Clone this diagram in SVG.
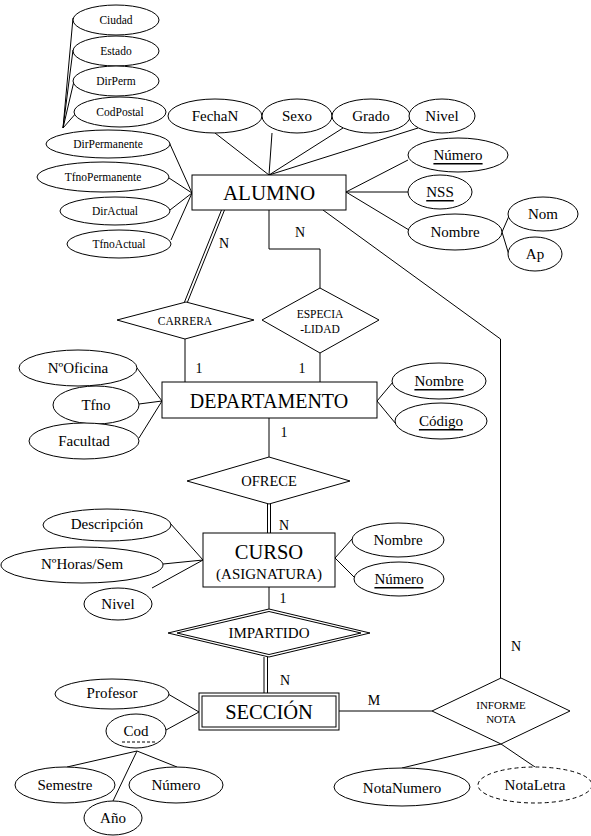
<svg xmlns="http://www.w3.org/2000/svg" width="591" height="836" viewBox="0 0 591 836" font-family="'Liberation Serif', 'Times New Roman', Times, serif">
<style>
text{fill:#000;text-anchor:middle;dominant-baseline:central}
.s{fill:#fff;stroke:#000;stroke-width:1}
.l{stroke:#000;stroke-width:1;fill:none}
.d{stroke-dasharray:4 3}
.f11{font-size:11.5px}.f15{font-size:15px}.lab{font-size:14px;dominant-baseline:auto}
.u{text-decoration:underline}
</style>
<rect width="591" height="836" fill="#fff"/>
<g id="connectors">
<path class="l" d="M63,128 L73,18 M63,128 L73,50 M63,128 L74,81 M63,128 L77,112"/>
<path class="l" d="M192,193 L169,142 M192,193 L169,178 M192,193 L170,210 M192,193 L171,240"/>
<path class="l" d="M269,175 L215,133 M269,175 L272,133 M269,175 L343,128 M269,175 L418,128"/>
<path class="l" d="M346,192 L408,160 M346,192 L408,192 M346,192 L409,230"/>
<path class="l" d="M502,232 L509,216 M502,232 L509,255"/>
<path class="l" d="M221.5,210 L184.5,302 M224.5,210 L187.5,302"/>
<path class="l" d="M269,210 V249 H320 V288"/>
<path class="l" d="M185,339 V382 M320,353 V382"/>
<path class="l" d="M162,401 L137,368 M162,401 L139,404 M162,401 L139,438"/>
<path class="l" d="M377,401 L393,382 M377,401 L396,424"/>
<path class="l" d="M269,418 V457"/>
<path class="l" d="M267.5,504 V533 M270.5,504 V533"/>
<path class="l" d="M203,560 L170,523 M203,560 L163,564 M203,560 L152,588"/>
<path class="l" d="M335,558 L352,539 M335,558 L354,577"/>
<path class="l" d="M269,587 V609"/>
<path class="l" d="M264,657 V693 M267.5,657 V693"/>
<path class="l" d="M199,712 L168,694 M199,712 L166,730"/>
<path class="l" d="M137,751 L67,767 M137,751 L113,801 M137,751 L177,767"/>
<path class="l" d="M339,711 H432"/>
<path class="l" d="M323,210 L500.5,339 V678"/>
<path class="l" d="M501,744 L402,768 M501,744 L535,767"/>
</g>
<g id="labels">
<text class="lab" x="224" y="248">N</text>
<text class="lab" x="300" y="237">N</text>
<text class="lab" x="199" y="373">1</text>
<text class="lab" x="302" y="373">1</text>
<text class="lab" x="284" y="437">1</text>
<text class="lab" x="284" y="530">N</text>
<text class="lab" x="283" y="603">1</text>
<text class="lab" x="285" y="685">N</text>
<text class="lab" x="374" y="705">M</text>
<text class="lab" x="516" y="651">N</text>
</g>
<g id="attr-ciudad"><ellipse class="s" cx="116" cy="20" rx="43" ry="15"/><text class="f11" x="116" y="20">Ciudad</text></g>
<g id="attr-estado"><ellipse class="s" cx="116" cy="51" rx="43" ry="15"/><text class="f11" x="116" y="51">Estado</text></g>
<g id="attr-dirperm"><ellipse class="s" cx="116" cy="81" rx="43" ry="15"/><text class="f11" x="116" y="81">DirPerm</text></g>
<g id="attr-codpostal"><ellipse class="s" cx="120" cy="112" rx="46" ry="15"/><text class="f11" x="120" y="112">CodPostal</text></g>
<g id="attr-dirpermanente"><ellipse class="s" cx="108" cy="144" rx="62" ry="14"/><text class="f11" x="108" y="144">DirPermanente</text></g>
<g id="attr-tfnopermanente"><ellipse class="s" cx="103" cy="177" rx="66" ry="15"/><text class="f11" x="103" y="177">TfnoPermanente</text></g>
<g id="attr-diractual"><ellipse class="s" cx="115" cy="211" rx="55" ry="14"/><text class="f11" x="115" y="211">DirActual</text></g>
<g id="attr-tfnoactual"><ellipse class="s" cx="119" cy="244" rx="52" ry="14"/><text class="f11" x="119" y="244">TfnoActual</text></g>
<g id="attr-fechan"><ellipse class="s" cx="215" cy="116" rx="47" ry="17"/><text class="f15" x="215" y="116">FechaN</text></g>
<g id="attr-sexo"><ellipse class="s" cx="297" cy="116" rx="35" ry="17"/><text class="f15" x="297" y="116">Sexo</text></g>
<g id="attr-grado"><ellipse class="s" cx="371" cy="116" rx="39" ry="17"/><text class="f15" x="371" y="116">Grado</text></g>
<g id="attr-nivel-alumno"><ellipse class="s" cx="442" cy="116" rx="33" ry="17"/><text class="f15" x="442" y="116">Nivel</text></g>
<g id="attr-numero-alumno"><ellipse class="s" cx="458" cy="155" rx="50" ry="17"/><text class="f15 u" x="458" y="155">Número</text></g>
<g id="attr-nss"><ellipse class="s" cx="440" cy="192" rx="32" ry="17"/><text class="f15 u" x="440" y="192">NSS</text></g>
<g id="attr-nombre-alumno"><ellipse class="s" cx="455" cy="232" rx="47" ry="18"/><text class="f15" x="455" y="232">Nombre</text></g>
<g id="attr-nom"><ellipse class="s" cx="543" cy="214" rx="35" ry="17"/><text class="f15" x="543" y="214">Nom</text></g>
<g id="attr-ap"><ellipse class="s" cx="535" cy="254" rx="27" ry="17"/><text class="f15" x="535" y="254">Ap</text></g>
<g id="alumno"><rect class="s" x="192" y="175" width="154" height="35"/><text style="font-size:21px" x="269" y="193">ALUMNO</text></g>
<g id="carrera"><polygon class="s" points="117,320 186,302 254,320 185,339"/><text class="f11" x="185" y="321">CARRERA</text></g>
<g id="especialidad"><polygon class="s" points="262,320 320,288 379,320 320,353"/><text class="f11" x="320" y="314">ESPECIA</text><text class="f11" x="320" y="329">-LIDAD</text></g>
<g id="attr-noficina"><ellipse class="s" cx="78" cy="368" rx="59" ry="18"/><text class="f15" x="78" y="368">NºOficina</text></g>
<g id="attr-tfno"><ellipse class="s" cx="96" cy="405" rx="43" ry="19"/><text class="f15" x="96" y="405">Tfno</text></g>
<g id="attr-facultad"><ellipse class="s" cx="84" cy="441" rx="55" ry="18"/><text class="f15" x="84" y="441">Facultad</text></g>
<g id="attr-nombre-dept"><ellipse class="s" cx="439" cy="381" rx="47" ry="18"/><text class="f15 u" x="439" y="381">Nombre</text></g>
<g id="attr-codigo"><ellipse class="s" cx="441" cy="421" rx="46" ry="18"/><text class="f15 u" x="441" y="421">Código</text></g>
<g id="departamento"><rect class="s" x="162" y="382" width="215" height="36"/><text style="font-size:20px" x="269" y="401">DEPARTAMENTO</text></g>
<g id="ofrece"><polygon class="s" points="187,481 269,457 350,481 269,504"/><text style="font-size:14.5px" x="269" y="481">OFRECE</text></g>
<g id="attr-descripcion"><ellipse class="s" cx="107" cy="525" rx="64" ry="16"/><text class="f15" x="107" y="524">Descripción</text></g>
<g id="attr-nhoras"><ellipse class="s" cx="82" cy="565" rx="81" ry="18"/><text class="f15" x="82" y="564">NºHoras/Sem</text></g>
<g id="attr-nivel-curso"><ellipse class="s" cx="118" cy="604" rx="34" ry="16"/><text class="f15" x="118" y="604">Nivel</text></g>
<g id="attr-nombre-curso"><ellipse class="s" cx="398" cy="540" rx="46" ry="17"/><text class="f15" x="398" y="540">Nombre</text></g>
<g id="attr-numero-curso"><ellipse class="s" cx="399" cy="579" rx="45" ry="17"/><text class="f15 u" x="399" y="579">Número</text></g>
<g id="curso"><rect class="s" x="203" y="533" width="132" height="54"/><text style="font-size:20.5px" x="269" y="552">CURSO</text><text class="f15" x="269" y="574">(ASIGNATURA)</text></g>
<g id="impartido"><polygon class="s" points="168,633 269,609 370,633 269,657"/><polygon class="l" points="177,633 269,611.5 361,633 269,654.5"/><text class="f15" x="269" y="633">IMPARTIDO</text></g>
<g id="seccion"><rect class="s" x="199" y="693" width="140" height="37"/><rect class="l" x="202" y="696" width="134" height="31"/><text style="font-size:20.5px" x="269" y="712">SECCIÓN</text></g>
<g id="attr-profesor"><ellipse class="s" cx="112" cy="694" rx="57" ry="15"/><text class="f15" x="112" y="693">Profesor</text></g>
<g id="attr-cod"><ellipse class="s" cx="136" cy="731" rx="30" ry="17"/><text class="f15" x="136" y="731">Cod</text><line class="l" x1="122" y1="742" x2="156" y2="742" stroke-dasharray="3 2"/></g>
<g id="attr-semestre"><ellipse class="s" cx="65" cy="785" rx="50" ry="18"/><text class="f15" x="65" y="785">Semestre</text></g>
<g id="attr-numero-seccion"><ellipse class="s" cx="176" cy="785" rx="47" ry="18"/><text class="f15" x="176" y="785">Número</text></g>
<g id="attr-anio"><ellipse class="s" cx="113" cy="818" rx="29" ry="17"/><text class="f15" x="113" y="818">Año</text></g>
<g id="informe-nota"><polygon class="s" points="432,711 501,678 570,711 501,744"/><text style="font-size:11px" x="501" y="705">INFORME</text><text style="font-size:11px" x="501" y="719">NOTA</text></g>
<g id="attr-notanumero"><ellipse class="s" cx="402" cy="787" rx="68" ry="19"/><text class="f15" x="402" y="788">NotaNumero</text></g>
<g id="attr-notaletra"><ellipse class="s d" cx="535" cy="785" rx="57" ry="18"/><text class="f15" x="535" y="785">NotaLetra</text></g>
</svg>
